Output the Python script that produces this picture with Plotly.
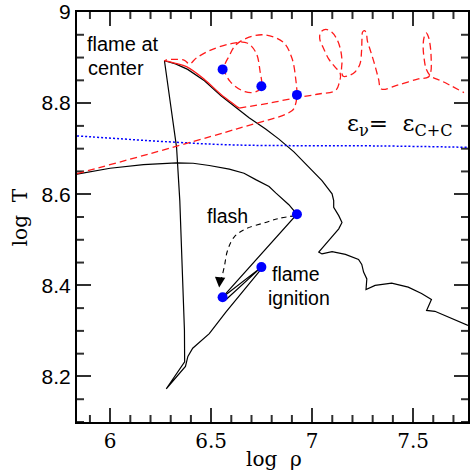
import plotly.graph_objects as go

# ---------------- data (log rho, log T) ----------------
# black track: low-density branch rising to the flash point, then down to post-flash state
track_a_x = [5.836, 5.915, 6.000, 6.165, 6.329, 6.411, 6.491, 6.590, 6.663, 6.721, 6.787, 6.820, 6.885, 6.925, 6.557]
track_a_y = [8.644, 8.651, 8.657, 8.665, 8.669, 8.668, 8.663, 8.655, 8.646, 8.632, 8.617, 8.603, 8.577, 8.556, 8.374]

# narrow wedge: post-flash state -> flame ignition -> back
wedge_x = [6.557, 6.749, 6.577]
wedge_y = [8.374, 8.440, 8.370]

# from ignition down to the minimum, then up to the central flame
track_b_x = [6.749, 6.631, 6.573, 6.491, 6.409, 6.385, 6.373, 6.278, 6.369, 6.368, 6.360, 6.352, 6.345, 6.329, 6.296, 6.269]
track_b_y = [8.436, 8.374, 8.341, 8.294, 8.262, 8.244, 8.222, 8.173, 8.232, 8.301, 8.411, 8.498, 8.586, 8.703, 8.805, 8.893]

# from the central flame down to high density
track_c_x = [6.269, 6.324, 6.384, 6.467, 6.549, 6.614, 6.688, 6.770, 6.836, 6.910, 6.984, 7.049, 7.099, 7.107,
             7.107, 7.132, 7.148, 7.132, 7.082, 7.033, 7.049, 7.099, 7.165, 7.230, 7.246, 7.255, 7.271, 7.267,
             7.312, 7.394, 7.476, 7.542, 7.591, 7.567, 7.608, 7.673, 7.756, 7.772]
track_c_y = [8.893, 8.886, 8.874, 8.849, 8.816, 8.794, 8.768, 8.743, 8.721, 8.693, 8.659, 8.630, 8.601, 8.586,
             8.571, 8.553, 8.538, 8.524, 8.498, 8.473, 8.469, 8.474, 8.468, 8.457, 8.446, 8.429, 8.414, 8.391,
             8.400, 8.405, 8.396, 8.382, 8.369, 8.345, 8.343, 8.331, 8.316, 8.312]

# red flame-front track (dashed), left loops
red_left_x = [5.836, 6.624, 6.900, 6.917, 6.925, 6.920, 6.900, 6.856, 6.757, 6.668, 6.619, 6.590, 6.565, 6.595,
              6.668, 6.723, 6.749, 6.742, 6.723, 6.678, 6.595, 6.491, 6.427, 6.393, 6.368, 6.319, 6.279, 6.269]
red_left_y = [8.645, 8.743, 8.783, 8.796, 8.818, 8.849, 8.899, 8.934, 8.950, 8.941, 8.926, 8.904, 8.877, 8.847,
              8.825, 8.825, 8.837, 8.871, 8.910, 8.932, 8.930, 8.915, 8.899, 8.886, 8.894, 8.896, 8.895, 8.893]
# red segment running along the black track (solid)
red_mid_x = [6.269, 6.324, 6.378, 6.467, 6.549, 6.614, 6.639]
red_mid_y = [8.893, 8.887, 8.880, 8.852, 8.819, 8.797, 8.789]
# red dashed, right loops
red_right_x = [6.639, 6.787, 6.925, 7.033, 7.117, 7.134, 7.140, 7.112, 7.082, 7.058, 7.038, 7.043, 7.068, 7.097,
               7.122, 7.140, 7.148, 7.146, 7.154, 7.180, 7.214, 7.237, 7.245, 7.247, 7.250, 7.260, 7.269, 7.274,
               7.289, 7.309, 7.329, 7.343, 7.427, 7.526, 7.575, 7.588, 7.590, 7.585, 7.575, 7.565, 7.555, 7.550,
               7.555, 7.565, 7.585, 7.604, 7.639, 7.688, 7.752]
red_right_y = [8.789, 8.800, 8.812, 8.820, 8.828, 8.844, 8.864, 8.880, 8.897, 8.919, 8.941, 8.956, 8.962, 8.956,
               8.941, 8.919, 8.893, 8.871, 8.859, 8.860, 8.869, 8.886, 8.915, 8.941, 8.956, 8.959, 8.952, 8.936,
               8.915, 8.886, 8.853, 8.831, 8.840, 8.853, 8.857, 8.869, 8.893, 8.926, 8.947, 8.954, 8.945, 8.926,
               8.897, 8.875, 8.860, 8.855, 8.849, 8.838, 8.823]

# eps_nu = eps_C+C line (blue dotted)
eps_x = [5.836, 6.329, 6.624, 7.329, 7.772]
eps_y = [8.728, 8.714, 8.708, 8.706, 8.703]

# marked states
dots_x = [6.557, 6.749, 6.925, 6.925, 6.557, 6.749]
dots_y = [8.874, 8.837, 8.818, 8.556, 8.374, 8.440]

# "flash" arrow path (dashed)
arrow_x = [6.918, 6.836, 6.770, 6.672, 6.614, 6.581, 6.565, 6.549, 6.543]
arrow_y = [8.553, 8.547, 8.538, 8.524, 8.506, 8.476, 8.440, 8.411, 8.400]
arrow_tip = (6.540, 8.395)

x_range = [5.836, 7.772]
y_range = [8.1, 9.0]
x_ticks = [6, 6.5, 7, 7.5]
x_ticklabels = ["6", "6.5", "7", "7.5"]
x_minor_step = 0.1
y_ticks = [8.2, 8.4, 8.6, 8.8, 9.0]
y_ticklabels = ["8.2", "8.4", "8.6", "8.8", "9"]
y_minor_step = 0.05

# ---------------- figure ----------------
SERIF = "DejaVu Serif"
SANS = "Liberation Sans, Arial, sans-serif"
TICK_COL = "#303030"

def grid_vals(lo, hi, step, skip):
    out, k = [], int(lo / step) + 1
    while k * step < hi - 1e-9:
        v = round(k * step, 4)
        if all(abs(v - t) > 1e-6 for t in skip):
            out.append(v)
        k += 1
    return out

fig = go.Figure()

# minor tick marks on all four sides (line markers centred on the frame, outer half clipped away)
x_minor = grid_vals(x_range[0], x_range[1], x_minor_step, x_ticks)
y_minor = grid_vals(y_range[0], y_range[1], y_minor_step, y_ticks)
fig.add_trace(go.Scatter(x=x_minor + x_minor, y=[y_range[0]] * len(x_minor) + [y_range[1]] * len(x_minor),
                         mode="markers", cliponaxis=True, hoverinfo="skip",
                         marker=dict(symbol="line-ns", size=10, color=TICK_COL, line=dict(color=TICK_COL, width=2))))
fig.add_trace(go.Scatter(x=[x_range[0]] * len(y_minor) + [x_range[1]] * len(y_minor), y=y_minor + y_minor,
                         mode="markers", cliponaxis=True, hoverinfo="skip",
                         marker=dict(symbol="line-ew", size=10, color=TICK_COL, line=dict(color=TICK_COL, width=2))))

blk = dict(color="black", width=1.2)
for xs, ys in [(track_a_x, track_a_y), (wedge_x, wedge_y), (track_b_x, track_b_y), (track_c_x, track_c_y)]:
    fig.add_trace(go.Scatter(x=xs, y=ys, mode="lines", line=blk))

fig.add_trace(go.Scatter(x=eps_x, y=eps_y, mode="lines", line=dict(color="blue", width=1.5, dash="2px,2px"),
                         line_shape="spline"))
red_dash = dict(color="#ff1a1a", width=1.3, dash="7px,4px")
fig.add_trace(go.Scatter(x=red_left_x, y=red_left_y, mode="lines", line=red_dash, line_shape="spline"))
fig.add_trace(go.Scatter(x=red_mid_x, y=red_mid_y, mode="lines", line=dict(color="#ff1a1a", width=1.3),
                         line_shape="spline"))
fig.add_trace(go.Scatter(x=red_right_x, y=red_right_y, mode="lines", line=red_dash, line_shape="spline"))

fig.add_trace(go.Scatter(x=arrow_x, y=arrow_y, mode="lines", line=dict(color="black", width=1.1, dash="5px,4px"),
                         line_shape="spline"))
fig.add_trace(go.Scatter(x=dots_x, y=dots_y, mode="markers", marker=dict(color="blue", size=10)))

ann = []
ann.append(dict(x=arrow_tip[0], y=arrow_tip[1], xref="x", yref="y", ax=1, ay=-11, axref="pixel", ayref="pixel",
                text="", showarrow=True, arrowhead=2, arrowsize=1.6, arrowwidth=1.3, arrowcolor="black", standoff=0))
txt = lambda s, x, y, xa="center", ya="middle", size=19.5, fam=SANS: dict(
    x=x, y=y, xref="x", yref="y", text=s, showarrow=False, xanchor=xa, yanchor=ya,
    font=dict(family=fam, size=size, color="black"))
ann.append(txt("flame at", 6.065, 8.930, size=20))
ann.append(txt("center", 6.028, 8.878, size=20))
ann.append(txt("flash", 6.583, 8.553))
ann.append(txt("flame", 6.918, 8.425))
ann.append(txt("ignition", 6.937, 8.373))
ann.append(dict(x=7.161, y=8.752, xref="x", yref="y", showarrow=False, xanchor="left", yanchor="middle",
                text="ε<sub>ν</sub>=\u00a0\u00a0ε<sub>C+C</sub>",
                font=dict(family=SERIF, size=23, color="black")))
# axis titles
ann.append(dict(x=-0.145, y=0.5, xref="paper", yref="paper", text="log  T", textangle=-90, showarrow=False,
                xanchor="center", yanchor="middle", font=dict(family=SERIF, size=20, color="black")))
ann.append(dict(x=0.504, y=-0.090, xref="paper", yref="paper", text="log  ρ", showarrow=False,
                xanchor="center", yanchor="middle", font=dict(family=SERIF, size=20, color="black")))

# major ticks: same settings as the configuration that rendered inside ticks
axis_common = dict(showline=True, linecolor="black", linewidth=2, mirror="ticks", ticks="inside",
                   ticklen=14, tickwidth=2, tickcolor=TICK_COL, showgrid=False, zeroline=False,
                   ticklabeloverflow="allow")
fig.update_layout(
    width=470, height=476,
    margin=dict(l=77, r=0, t=11, b=54),
    paper_bgcolor="white", plot_bgcolor="rgba(0,0,0,0)",
    showlegend=False, hovermode=False,
    annotations=ann,
)
fig.update_xaxes(range=x_range, tickvals=x_ticks, ticktext=x_ticklabels,
                 tickfont=dict(family=SERIF, size=20, color="black"), **axis_common)
fig.update_yaxes(range=y_range, tickvals=y_ticks, ticktext=y_ticklabels,
                 tickfont=dict(family=SANS, size=21, color="black"), **axis_common)
fig.write_html("out.html")
